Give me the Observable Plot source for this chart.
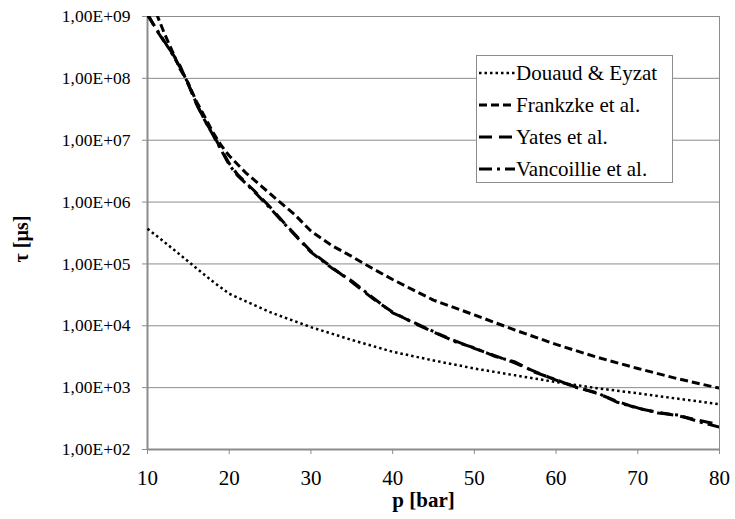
<!DOCTYPE html>
<html><head><meta charset="utf-8">
<script src="https://cdn.jsdelivr.net/npm/d3@7"></script>
<script src="https://cdn.jsdelivr.net/npm/@observablehq/plot@0.6"></script>
<style>
body{margin:0;background:#fff;}
#wrap{position:relative;width:735px;height:519px;font-family:"Liberation Serif","Times New Roman",serif;}
#legend{position:absolute;left:476px;top:55px;width:197px;height:128px;border:1px solid #8c8c8c;background:#fff;box-sizing:border-box;}
.row{position:absolute;left:2px;height:32px;display:flex;align-items:center;font-size:21px;color:#000;white-space:nowrap;}
.row svg{margin-right:1px;}
</style></head><body><div id="wrap"></div>
<script>
// ---- data ----
const seriesNames = ["Douaud & Eyzat", "Frankzke et al.", "Yates et al.", "Vancoillie et al."];

const pDouaud   = [10, 12, 14, 16, 18, 20, 25, 30, 35, 40, 45, 50, 55, 60, 65, 70, 75, 80];
const tauDouaud = [3.7e5, 2.3e5, 1.4e5, 8.5e4, 5.2e4, 3.3e4, 1.66e4, 9.5e3, 5.9e3, 3.8e3, 2.75e3, 2.04e3, 1.58e3, 1.23e3, 9.8e2, 8.1e2, 6.6e2, 5.4e2];

const pFrankzke   = [10, 11, 12, 13, 14, 15, 16, 17, 18, 19, 20, 22, 24, 26, 28, 30, 32.5, 35, 37.5, 40, 42.5, 45, 50, 55, 60, 65, 70, 75, 80];
const tauFrankzke = [2.6e9, 1.2e9, 5.6e8, 2.8e8, 1.4e8, 8.3e7, 4.2e7, 2.4e7, 1.35e7, 8.3e6, 5.6e6, 3.0e6, 1.78e6, 1.05e6, 6.3e5, 3.4e5, 2.0e5, 1.32e5, 8.5e4, 5.6e4, 3.8e4, 2.6e4, 1.5e4, 8.5e3, 5.0e3, 3.1e3, 2.04e3, 1.38e3, 9.8e2];

const pYates   = [10, 11, 12, 13, 14, 15, 16, 17, 18, 19, 20, 21, 23, 25, 27, 29, 30, 32.5, 35, 37.5, 40, 42.5, 45, 47.5, 50, 52.5, 55, 57.5, 60, 62.5, 65, 67.5, 70, 72.5, 75, 77.5, 80];
const tauYates = [1.12e9, 6.3e8, 4.0e8, 2.6e8, 1.58e8, 7.9e7, 3.8e7, 2.1e7, 1.26e7, 7.2e6, 4.2e6, 2.8e6, 1.55e6, 8.3e5, 4.2e5, 2.2e5, 1.6e5, 8.9e4, 5.1e4, 2.8e4, 1.66e4, 1.12e4, 7.9e3, 5.8e3, 4.3e3, 3.3e3, 2.5e3, 1.8e3, 1.32e3, 1.02e3, 8.1e2, 6.0e2, 4.6e2, 4.0e2, 3.5e2, 2.95e2, 2.5e2];

const pVancoillie   = [10, 11, 12, 13, 14, 15, 16, 17, 18, 19, 20, 21, 23, 25, 27, 29, 30, 32.5, 35, 37.5, 40, 42.5, 45, 47.5, 50, 52.5, 55, 57.5, 60, 62.5, 65, 67.5, 70, 72.5, 75, 77.5, 80];
const tauVancoillie = [1.05e9, 6.6e8, 4.1e8, 2.5e8, 1.5e8, 8.1e7, 3.9e7, 2.1e7, 1.22e7, 7.0e6, 4.0e6, 2.7e6, 1.5e6, 8.0e5, 4.1e5, 2.15e5, 1.55e5, 8.7e4, 5.3e4, 2.9e4, 1.62e4, 1.15e4, 8.1e3, 5.6e3, 4.4e3, 3.2e3, 2.6e3, 1.75e3, 1.35e3, 1.0e3, 8.3e2, 5.8e2, 4.7e2, 3.9e2, 3.6e2, 2.8e2, 2.3e2];

const xTicks = [10, 20, 30, 40, 50, 60, 70, 80];
const yTicks = [1e2, 1e3, 1e4, 1e5, 1e6, 1e7, 1e8, 1e9];
const yTickLabels = ["1,00E+02", "1,00E+03", "1,00E+04", "1,00E+05", "1,00E+06", "1,00E+07", "1,00E+08", "1,00E+09"];
const xTitle = "p [bar]";
const yTitle = "τ [µs]";

// ---- styles ----
const dashes = ["2.5,3", "8,4", "13,7", "13,5,3,5"];
const widths = [2.5, 3, 3, 3];
const gridColor = "#8c8c8c";
const serif = '"Liberation Serif", "Times New Roman", serif';

const tables = [
  d3.zip(pDouaud, tauDouaud),
  d3.zip(pFrankzke, tauFrankzke),
  d3.zip(pYates, tauYates),
  d3.zip(pVancoillie, tauVancoillie)
].map(t => t.map(([p, tau]) => ({p, tau})));

const fmt = v => yTickLabels[yTicks.indexOf(v)] ?? "";

const chart = Plot.plot({
  width: 735, height: 519,
  marginLeft: 147, marginRight: 16, marginTop: 16, marginBottom: 70,
  style: {fontFamily: serif, background: "#fff", color: "#000"},
  x: {domain: [10, 80]},
  y: {type: "log", domain: [1e2, 1e9]},
  marks: [
    Plot.gridY(yTicks, {stroke: gridColor, strokeOpacity: 1, strokeWidth: 1}),
    Plot.frame({stroke: gridColor, strokeWidth: 1}),
    Plot.ruleX([10], {stroke: gridColor, strokeWidth: 2}),
    Plot.ruleY([1e2], {stroke: gridColor, strokeWidth: 2}),
    Plot.axisY(yTicks, {tickSize: 5, tickPadding: 12, fontSize: 17.5, fontFamily: serif, tickFormat: fmt, stroke: gridColor, label: null}),
    Plot.axisX(xTicks, {tickSize: 5, tickPadding: 16, fontSize: 21, fontFamily: serif, tickFormat: d => String(d), stroke: gridColor, label: null}),
    ...tables.map((t, i) => Plot.line(t, {
      x: "p", y: "tau", stroke: "#000", strokeWidth: widths[i],
      strokeDasharray: dashes[i], strokeLinecap: "butt", clip: true
    })),
    Plot.text([xTitle], {text: d => d, frameAnchor: "bottom", lineAnchor: "middle", textAnchor: "middle", dy: 51, dx: -10, fontWeight: "bold", fontSize: 21, fontFamily: serif}),
    Plot.text([yTitle], {text: d => d, frameAnchor: "left", lineAnchor: "middle", textAnchor: "middle", rotate: -90, dx: -126, dy: 6, fontWeight: "bold", fontSize: 20, fontFamily: serif})
  ]
});

const wrap = document.getElementById("wrap");
wrap.appendChild(chart);

// legend (inside plot area, as in the reference)
const legend = document.createElement("div");
legend.id = "legend";
seriesNames.forEach((name, i) => {
  const row = document.createElement("div");
  row.className = "row";
  row.style.top = (1 + i * 32) + "px";
  const svg = d3.create("svg").attr("width", 36).attr("height", 10);
  svg.append("line").attr("x1", 0).attr("x2", 36).attr("y1", 5).attr("y2", 5)
    .attr("stroke", "#000").attr("stroke-width", widths[i]).attr("stroke-dasharray", dashes[i]);
  row.appendChild(svg.node());
  const span = document.createElement("span");
  span.textContent = name;
  row.appendChild(span);
  legend.appendChild(row);
});
wrap.appendChild(legend);
</script>
</body></html>
